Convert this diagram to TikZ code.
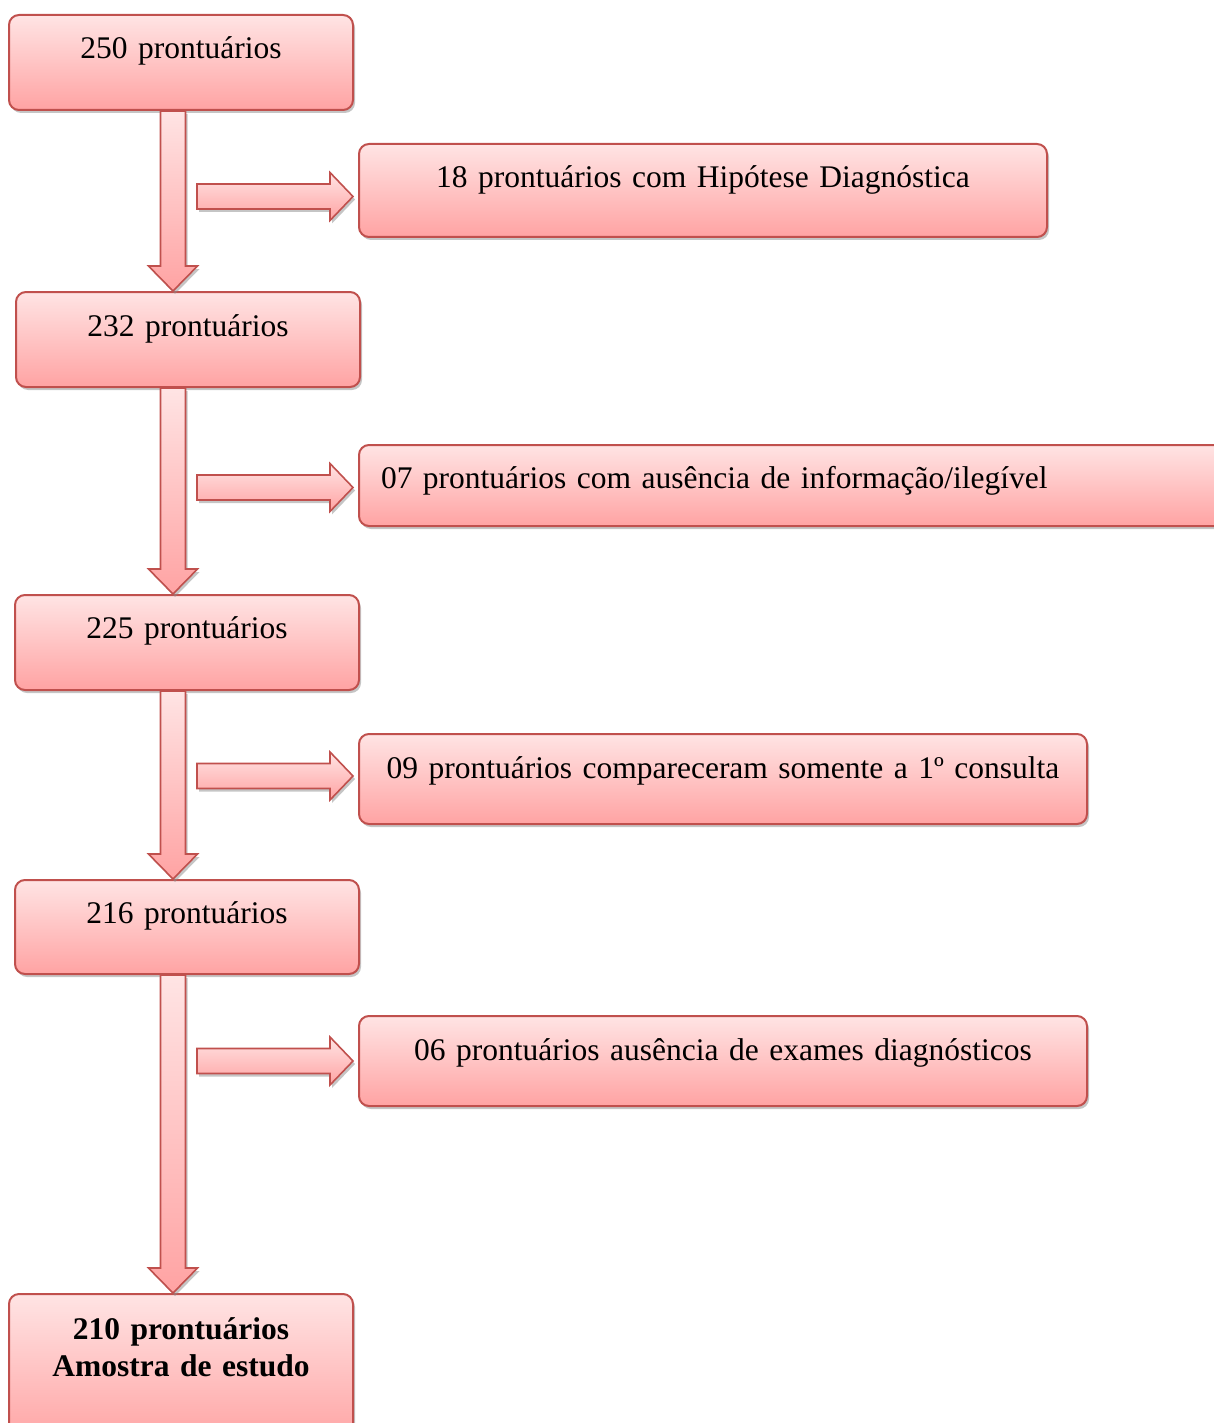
\documentclass[tikz,border=0pt]{standalone}
\usepackage{fontspec}
\setmainfont{Liberation Serif}
\usetikzlibrary{positioning,calc,shadows}
\definecolor{rim}{HTML}{C0504D}
\definecolor{pinktop}{HTML}{FFE4E4}
\definecolor{pinkbot}{HTML}{FFA3A3}

\begin{document}
\begin{tikzpicture}[
  x=1pt, y=-1pt,
  shade/.style={top color=pinktop, bottom color=pinkbot,
    drop shadow={shadow xshift=2pt, shadow yshift=-3pt, fill=black!45, opacity=.5}},
  box/.style={shade, draw=rim, line width=2pt, rounded corners=10pt,
    anchor=north west, inner sep=0pt, align=center,
    font=\fontsize{31.5}{37}\selectfont},
  barrow/.style={shade, draw=rim, line width=1.6pt, line join=miter},
]
  \useasboundingbox (0,0) rectangle (1214,1423);
  \coordinate (col) at (173,0);

  % main column
  \node[box, text width=344pt, text height=44pt, text depth=51pt] (n250) at (8,14) {250 prontuários};
  \node[box, text width=344pt, text height=44pt, text depth=51pt] (n232) at (15,291) {232 prontuários};
  \node[box, text width=344pt, text height=43pt, text depth=52pt] (n225) at (14,594) {225 prontuários};
  \node[box, text width=344pt, text height=43pt, text depth=51pt] (n216) at (14,879) {216 prontuários};
  \node[box, text width=344pt, text height=45pt, text depth=105pt, font=\fontsize{31.5}{37}\selectfont\bfseries] (n210) at (8,1293) {210 prontuários\\Amostra de estudo};

  % excluded records
  \node[box, text width=688pt, text height=44pt, text depth=49pt] (n18) at (358,143) {18 prontuários com Hipótese Diagnóstica};
  \node[box, align=left, inner xsep=22pt, text width=836pt, text height=43pt, text depth=38pt] (n07) at (358,444) {07 prontuários com ausência de informação/ilegível};
  \node[box, text width=728pt, text height=44pt, text depth=46pt] (n09) at (358,733) {09 prontuários compareceram somente a 1º consulta};
  \node[box, text width=728pt, text height=44pt, text depth=46pt] (n06) at (358,1015) {06 prontuários ausência de exames diagnósticos};

  % block arrows down
  \foreach \a/\b in {n250/n232, n232/n225, n225/n216, n216/n210}
    \path[barrow] let \p1=(\a.south), \p2=(\b.north), \p3=(col) in
      (\x3-12.5pt,\y1) -- (\x3-12.5pt,\y2+25pt) -- (\x3-24.5pt,\y2+25pt) -- (\x3,\y2)
      -- (\x3+24.5pt,\y2+25pt) -- (\x3+12.5pt,\y2+25pt) -- (\x3+12.5pt,\y1) -- cycle;

  % block arrows right
  \foreach \s/\dy in {n18/-6, n07/-2, n09/3, n06/0}
    \path[barrow] let \p1=(\s.west), \p3=(col) in
      (\x3+24pt,\y1+\dy pt+12.5pt) -- (\x1-28pt,\y1+\dy pt+12.5pt) -- (\x1-28pt,\y1+\dy pt+24pt)
      -- (\x1-5pt,\y1+\dy pt) -- (\x1-28pt,\y1+\dy pt-24pt) -- (\x1-28pt,\y1+\dy pt-12.5pt)
      -- (\x3+24pt,\y1+\dy pt-12.5pt) -- cycle;
\end{tikzpicture}
\end{document}
